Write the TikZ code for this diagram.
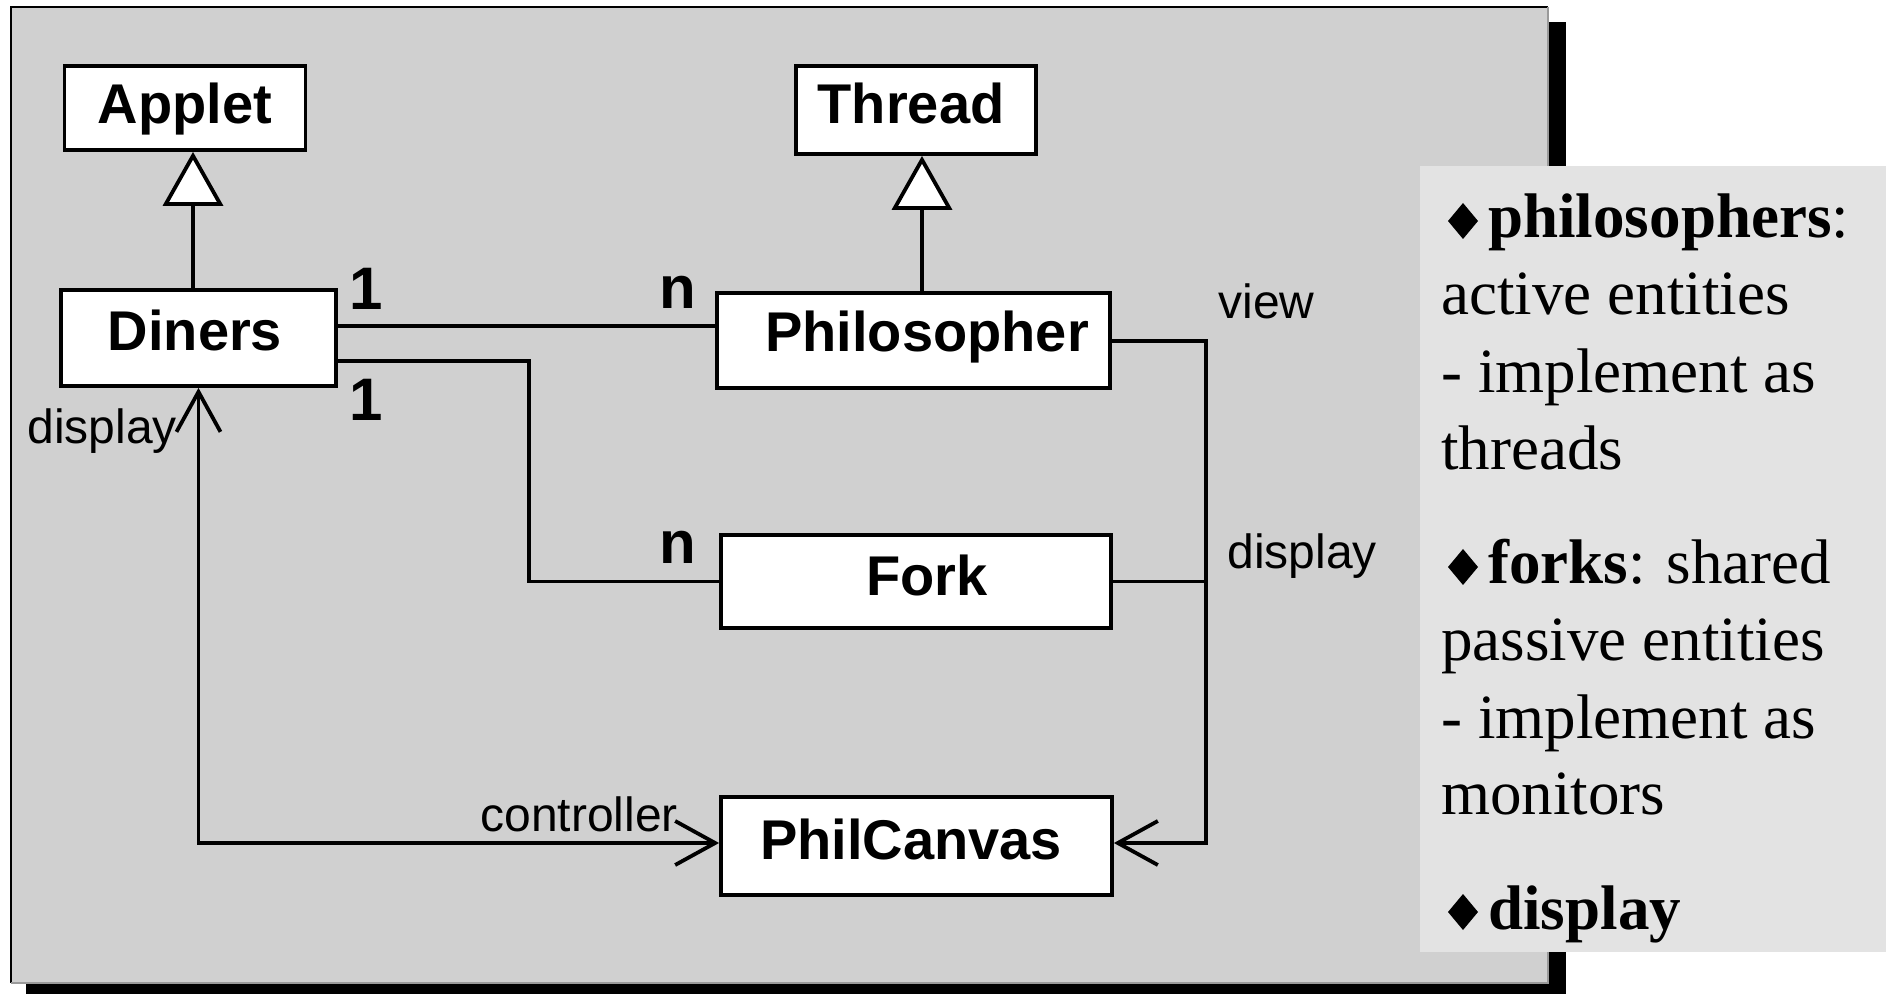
\documentclass[tikz,border=0pt]{standalone}
\usepackage{fontspec}
\setmainfont{Liberation Serif}
\setsansfont{Liberation Sans}
\usetikzlibrary{arrows.meta}
\definecolor{panel}{HTML}{D0D0D0}
\definecolor{notes}{HTML}{E3E3E3}
\definecolor{rim}{HTML}{9A9A9A}
\begin{document}
\begin{tikzpicture}[x=0.5pt,y=-0.5pt,
  cls/.style={draw=black, line width=1.9pt, fill=white, rectangle, inner sep=0pt},
  clsname/.style={font=\sffamily\bfseries\fontsize{28}{30}\selectfont, inner sep=0pt, anchor=base},
  mult/.style={font=\sffamily\bfseries\fontsize{30}{32}\selectfont, inner sep=0pt, anchor=base},
  role/.style={font=\sffamily\fontsize{24}{26}\selectfont, inner sep=0pt, anchor=base west},
  note/.style={font=\fontsize{31.5}{38.5}\selectfont, inner sep=0pt, anchor=base west},
  link/.style={line width=1.9pt},
  inherit/.style={link, -{Triangle[fill=white, length=27pt, width=30pt]}},
  nav/.style={link, -{Straight Barb[length=20pt, width=22pt]}},
  navboth/.style={link, {Straight Barb[length=20pt, width=22pt]}-{Straight Barb[length=20pt, width=22pt]}},
  bulletmark/.pic={\fill[black] (0,-18) -- (15,0) -- (0,18) -- (-15,0) -- cycle;}
]
\useasboundingbox (0,0) rectangle (1886,994);
\fill[white] (0,0) rectangle (1886,994);

% shadowed diagram panel
\fill[black] (26,22) rectangle (1566,994);
\fill[panel] (11,7) rectangle (1548,983);
\draw[black, line width=1.2pt] (11,983) -- (11,7) -- (1548,7);
\draw[rim, line width=1.2pt] (1548,7) -- (1548,983) -- (11,983);

% notes panel
\fill[notes] (1420,166) rectangle (1886,952);

% classes
\node[cls, minimum width=120.5pt, minimum height=42pt]   (applet) at (185,108) {};
\node[cls, minimum width=137.5pt, minimum height=48pt]   (diners) at (198.5,338) {};
\node[cls, minimum width=120pt,   minimum height=44pt]   (thread) at (916,110) {};
\node[cls, minimum width=196.5pt, minimum height=47.5pt] (phil)   at (913.5,340.5) {};
\node[cls, minimum width=195pt,   minimum height=46.5pt] (fork)   at (916,581.5) {};
\node[cls, minimum width=195.5pt, minimum height=49pt]   (canvas) at (916.5,846) {};

\node[clsname] (appletT) at (185,124) {Applet};
\node[clsname] (dinersT) at (195,351) {Diners};
\node[clsname] (threadT) at (911,124) {Thread};
\node[clsname] (philT)   at (927,352) {Philosopher};
\node[clsname] (forkT)   at (927,596) {Fork};
\node[clsname] (canvasT) at (911,859) {PhilCanvas};

% helper coordinates for routing
\coordinate (ax) at (193,0);
\coordinate (tx) at (922,0);
\coordinate (r1) at (0,326);
\coordinate (r2) at (0,361);
\coordinate (r3) at (0,341);
\coordinate (r4) at (0,843);
\coordinate (c1) at (529,0);
\coordinate (trunk) at (1206,0);

% generalisation
\draw[inherit] (diners.north -| ax) -- (applet.south -| ax);
\draw[inherit] (phil.north -| tx) -- (thread.south -| tx);

% associations
\draw[link] (diners.east |- r1) -- (phil.west |- r1);
\draw[link] (diners.east |- r2) -| (fork.west -| c1) -- (fork.west);
\draw[nav] (phil.east |- r3) -| (trunk |- r4) -- (canvas.east |- r4);
\draw[link] (fork.east) -- (fork.east -| trunk);
\draw[navboth] (diners.south) -- (diners.south |- r4) -- (canvas.west |- r4);

% multiplicities and roles
\node[mult] (m1) at (366.5,310) {1};
\node[mult] (m2) at (366.5,421) {1};
\node[mult] (m3) at (677.5,309) {n};
\node[mult] (m4) at (677.5,564) {n};
\node[role] (lbl1) at (27,444) {display};
\node[role] (lbl2) at (480,831) {controller};
\node[role] (lbl3) at (1218,319) {view};
\node[role] (lbl4) at (1227,569) {display};

% notes
\pic at (1463,221) {bulletmark};
\node[note] (n1) at (1488,238) {\textbf{philosophers}:};
\node[note] (n2) at (1441,315) {active entities};
\node[note] (n3) at (1441,393) {- implement as};
\node[note] (n4) at (1441,470) {threads};
\pic at (1463,567) {bulletmark};
\node[note] (n5) at (1488,584) {\textbf{forks}: shared};
\node[note] (n6) at (1441,661) {passive entities};
\node[note] (n7) at (1441,738) {- implement as};
\node[note] (n8) at (1441,814) {monitors};
\pic at (1463,912) {bulletmark};
\node[note] (n9) at (1488,929) {\textbf{display}};
\end{tikzpicture}
\end{document}
